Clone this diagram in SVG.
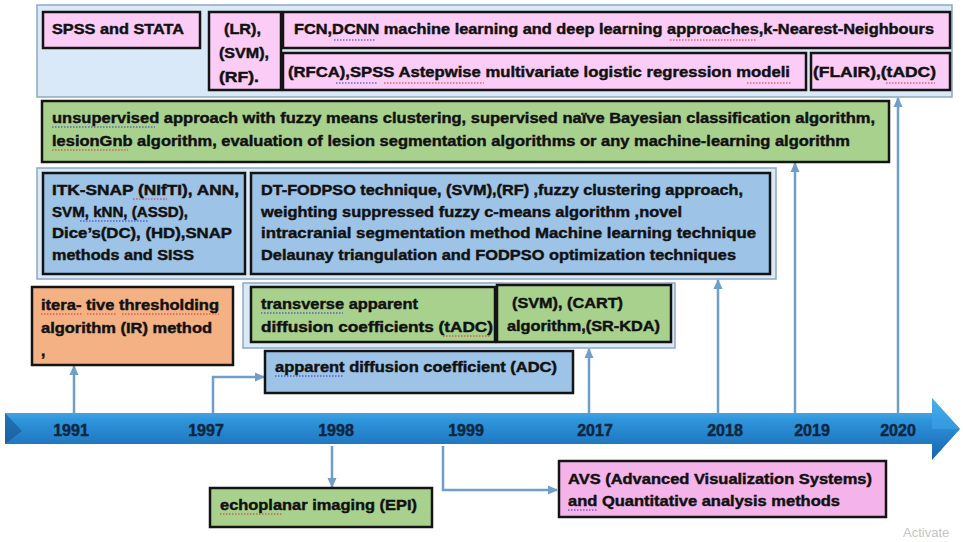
<svg xmlns="http://www.w3.org/2000/svg" width="963" height="542" viewBox="0 0 963 542">
<defs>
<linearGradient id="tl" x1="0" y1="0" x2="0" y2="1">
<stop offset="0" stop-color="#6cc0f2"/>
<stop offset="0.35" stop-color="#2f96dc"/>
<stop offset="1" stop-color="#1563ae"/>
</linearGradient>
<marker id="ah" markerUnits="userSpaceOnUse" markerWidth="10" markerHeight="10" refX="9" refY="5" orient="auto">
<path d="M0,0.5 L10,5 L0,9.5 Z" fill="#6f9fc8"/>
</marker>
<style>
.panel{fill:#dae9f7;stroke:#8ea9c1;stroke-width:1.5}
.box{stroke:#141414;stroke-width:2.5}
.pink{fill:#fbcdf6}
.pink2{fill:#f4b4ea}
.green{fill:#a9d18e}
.blue{fill:#9dc3e6}
.orange{fill:#f4b183}
.t{font-family:"Liberation Sans",Arial,sans-serif;font-weight:bold;font-size:15.5px;fill:#111;stroke:#111;stroke-width:0.45}
.yr{font-family:"Liberation Sans",Arial,sans-serif;font-weight:bold;font-size:16px;fill:#0e2841;stroke:#0e2841;stroke-width:0.5;text-anchor:middle}
.conn{fill:none;stroke:#6f9fc8;stroke-width:2.5}
.sr{stroke:#d33;stroke-width:1.2;stroke-dasharray:1.5 1.5;fill:none}
.sb{stroke:#33c;stroke-width:1.2;stroke-dasharray:1.5 1.5;fill:none}
</style>
</defs>
<rect width="963" height="542" fill="#ffffff"/>

<!-- panels -->
<rect class="panel" x="37" y="5" width="915" height="92"/>
<rect class="panel" x="37" y="168" width="739" height="111"/>
<rect class="panel" x="243" y="283" width="432" height="65"/>

<!-- timeline -->
<g id="timeline">
<polygon points="5,413 932,413 932,398 960,429 932,460 932,444 5,444" fill="url(#tl)"/>
<polygon points="932,398 960,429 932,429" fill="#3ea3e6" opacity="0.6"/>
<polygon points="5,413 22,431 5,444" fill="#14508c" opacity="0.55"/>
<text class="yr" x="71" y="436">1991</text>
<text class="yr" x="206" y="436">1997</text>
<text class="yr" x="336" y="436">1998</text>
<text class="yr" x="466" y="436">1999</text>
<text class="yr" x="595" y="436">2017</text>
<text class="yr" x="725" y="436">2018</text>
<text class="yr" x="812" y="436">2019</text>
<text class="yr" x="898" y="436">2020</text>
</g>

<!-- connectors -->
<g id="connectors">
<path class="conn" d="M74,413 V366" marker-end="url(#ah)"/>
<path class="conn" d="M213,413 V377 H264" marker-end="url(#ah)"/>
<path class="conn" d="M332,446 V487" marker-end="url(#ah)"/>
<path class="conn" d="M443,446 V490 H557" marker-end="url(#ah)"/>
<path class="conn" d="M589,413 V349" marker-end="url(#ah)"/>
<path class="conn" d="M718,413 V280" marker-end="url(#ah)"/>
<path class="conn" d="M795,413 V163" marker-end="url(#ah)"/>
<path class="conn" d="M898,413 V98" marker-end="url(#ah)"/>
</g>

<g id="n-spss">
<rect class="box pink" x="43" y="12" width="157" height="36"/>
<text class="t" x="52" y="34" textLength="132" lengthAdjust="spacingAndGlyphs">SPSS and STATA</text>
</g>
<g id="n-lr">
<rect class="box pink" x="209" y="12" width="72" height="78"/>
<text class="t" x="224" y="34" textLength="37" lengthAdjust="spacingAndGlyphs">(LR),</text>
<text class="t" x="219" y="58" textLength="50" lengthAdjust="spacingAndGlyphs">(SVM),</text>
<text class="t" x="219" y="82" textLength="40" lengthAdjust="spacingAndGlyphs">(RF).</text>
</g>
<g id="n-fcn">
<rect class="box pink" x="283" y="12" width="667" height="36"/>
<text class="t" x="294" y="34" textLength="640" lengthAdjust="spacingAndGlyphs">FCN,DCNN machine learning and deep learning approaches,k-Nearest-Neighbours</text>
<path class="sb" d="M334,40 H376"/>
<path class="sr" d="M670,40 H757"/>
</g>
<g id="n-rfca">
<rect class="box pink" x="283" y="53" width="523" height="37"/>
<text class="t" x="288" y="77" textLength="502" lengthAdjust="spacingAndGlyphs">(RFCA),SPSS Astepwise multivariate logistic regression modeli</text>
<path class="sb" d="M336,83 H378"/>
<path class="sr" d="M384,83 H484"/>
<path class="sr" d="M747,83 H791"/>
</g>
<g id="n-flair">
<rect class="box pink" x="811" y="53" width="139" height="37"/>
<text class="t" x="813" y="77" textLength="123" lengthAdjust="spacingAndGlyphs">(FLAIR),(tADC)</text>
<path class="sr" d="M886,83 H935"/>
</g>

<g id="n-unsup">
<rect class="box green" x="42" y="101" width="847" height="61"/>
<text class="t" x="52" y="123" textLength="823" lengthAdjust="spacingAndGlyphs">unsupervised approach with fuzzy means clustering, supervised naïve Bayesian classification algorithm,</text>
<text class="t" x="52" y="146" textLength="798" lengthAdjust="spacingAndGlyphs">lesionGnb algorithm, evaluation of lesion segmentation algorithms or any machine-learning algorithm</text>
<path class="sb" d="M52,127 H155"/>
<path class="sr" d="M52,150 H128"/>
</g>

<g id="n-itk">
<rect class="box blue" x="43" y="173" width="202" height="101"/>
<text class="t" x="52" y="195" textLength="187" lengthAdjust="spacingAndGlyphs">ITK-SNAP (NIfTI), ANN,</text>
<text class="t" x="52" y="217" textLength="136" lengthAdjust="spacingAndGlyphs">SVM, kNN,  (ASSD),</text>
<text class="t" x="52" y="238" textLength="180" lengthAdjust="spacingAndGlyphs">Dice’s(DC), (HD),SNAP</text>
<text class="t" x="52" y="260" textLength="142" lengthAdjust="spacingAndGlyphs">methods and SISS</text>
<path class="sr" d="M133,199 H167"/>
<path class="sb" d="M80,221 H149"/>
</g>
<g id="n-dt">
<rect class="box blue" x="251" y="173" width="519" height="101"/>
<text class="t" x="261" y="195" textLength="482" lengthAdjust="spacingAndGlyphs">DT-FODPSO technique,  (SVM),(RF) ,fuzzy clustering approach,</text>
<text class="t" x="261" y="217" textLength="421" lengthAdjust="spacingAndGlyphs">weighting suppressed fuzzy c-means algorithm ,novel</text>
<text class="t" x="261" y="238" textLength="495" lengthAdjust="spacingAndGlyphs">intracranial segmentation method  Machine learning technique</text>
<text class="t" x="261" y="260" textLength="475" lengthAdjust="spacingAndGlyphs">Delaunay triangulation and FODPSO optimization techniques</text>
</g>

<g id="n-itera">
<rect class="box orange" x="32" y="287" width="201" height="78"/>
<text class="t" x="41" y="310" textLength="178" lengthAdjust="spacingAndGlyphs">itera- tive thresholding</text>
<text class="t" x="41" y="333" textLength="171" lengthAdjust="spacingAndGlyphs">algorithm (IR) method</text>
<text class="t" x="41" y="356">,</text>
<path class="sr" d="M41,314 H83 M87,314 H117 M122,314 H219"/>
</g>
<g id="n-tadc">
<rect class="box green" x="251" y="287" width="244" height="55"/>
<text class="t" x="261" y="309" textLength="157" lengthAdjust="spacingAndGlyphs">transverse apparent</text>
<text class="t" x="261" y="332" textLength="232" lengthAdjust="spacingAndGlyphs">diffusion coefficients (tADC)</text>
<path class="sb" d="M261,313 H343"/>
<path class="sr" d="M443,336 H490"/>
</g>
<g id="n-svmcart">
<rect class="box green" x="497" y="285" width="174" height="57"/>
<text class="t" x="512" y="308" textLength="111" lengthAdjust="spacingAndGlyphs">(SVM), (CART)</text>
<text class="t" x="507" y="331" textLength="153" lengthAdjust="spacingAndGlyphs">algorithm,(SR-KDA)</text>
</g>
<g id="n-adc">
<rect class="box blue" x="265" y="351" width="308" height="42"/>
<text class="t" x="275" y="372" textLength="282" lengthAdjust="spacingAndGlyphs">apparent diffusion coefficient (ADC)</text>
<path class="sb" d="M275,376 H343"/>
</g>

<g id="n-epi">
<rect class="box green" x="210" y="488" width="222" height="39"/>
<text class="t" x="220" y="510" textLength="197" lengthAdjust="spacingAndGlyphs">echoplanar imaging (EPI)</text>
<path class="sr" d="M220,514 H282"/>
</g>
<g id="n-avs">
<rect class="box pink2" x="559" y="461" width="327" height="56"/>
<text class="t" x="568" y="484" textLength="304" lengthAdjust="spacingAndGlyphs">AVS (Advanced Visualization Systems)</text>
<text class="t" x="568" y="506" textLength="272" lengthAdjust="spacingAndGlyphs">and Quantitative analysis methods</text>
<path class="sb" d="M568,510 H597"/>
</g>

<text x="903" y="537" font-family="'Liberation Sans',Arial,sans-serif" font-size="13" fill="#c4c4c4">Activate</text>
</svg>
